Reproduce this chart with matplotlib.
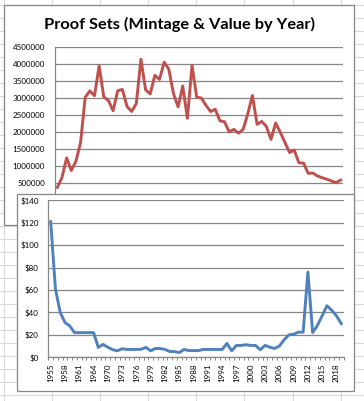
import matplotlib
matplotlib.use('Agg')
import matplotlib.pyplot as plt
from matplotlib.lines import Line2D
from matplotlib.patches import Rectangle
from matplotlib.ticker import FuncFormatter, MultipleLocator, FixedLocator

plt.rcParams['font.family'] = ['Lato', 'DejaVu Sans']

# ---------------------------------------------------------------------------
# Data (no proof sets struck 1965-1967)
# ---------------------------------------------------------------------------
years = list(range(1955, 1965)) + list(range(1968, 2020))

mintage = [
    378000, 669000, 1248000, 876000, 1149000, 1692000, 3028000, 3218000, 3076000, 3951000,
    3042000, 2935000, 2633000, 3221000, 3261000, 2760000, 2613000, 2845000, 4150000, 3251000,
    3128000, 3677000, 3555000, 4063000, 3857000, 3139000, 2748000, 3363000, 2411000, 3972000,
    3031000, 3009000, 2793000, 2611000, 2676000, 2338000, 2309000, 2010000, 2085000, 1975000,
    2087000, 2543000, 3083000, 2235000, 2320000, 2173000, 1789000, 2275000, 2000000, 1702000,
    1406000, 1478000, 1104000, 1095000, 794000, 802000, 715000, 663000, 622000, 569000,
    517000, 594000,
]

value = [
    121, 61, 40, 31, 28, 22, 22, 22, 22, 22,
    8.8, 11.5, 9, 6.8, 5.8, 7.6, 7, 7, 7, 7.2,
    8.8, 5.8, 7.9, 7.8, 7, 5.2, 5.1, 4.2, 7, 6,
    6, 6, 7, 7, 7, 7, 7, 12.4, 5.8, 10.6,
    10.6, 11.2, 10.6, 10.6, 6.7, 10.6, 9, 7.9, 10, 15.5,
    20, 20.6, 22.4, 22.4, 76, 22, 28.5, 37, 46, 42,
    37, 30,
]

W, H = 364, 401
GRAY = '#868686'


def fx(px):
    return px / W


def fy(py):
    return 1 - py / H


fig = plt.figure(figsize=(W / 100, H / 100), dpi=100)
fig.patch.set_facecolor('white')

# --- spreadsheet cell grid behind the charts ---
x = 3.5
while x < W:
    fig.add_artist(Line2D([fx(x), fx(x)], [0, 1], color='#d9d9d9', lw=0.8, zorder=0.5))
    x += 48.2
y = 4.7
while y < H:
    fig.add_artist(Line2D([0, 1], [fy(y), fy(y)], color='#d9d9d9', lw=0.8, zorder=0.5))
    y += 13.0

# --- chart boxes ---
fig.add_artist(Rectangle((fx(4), fy(225)), fx(354) - fx(4), fy(5) - fy(225),
                         facecolor='white', edgecolor=GRAY, lw=0.9, zorder=1))
fig.add_artist(Rectangle((fx(17), fy(391)), fx(354) - fx(17), fy(194) - fy(391),
                         facecolor='white', edgecolor=GRAY, lw=0.9, zorder=3))

n = len(years)

# --- top chart: mintage ---
ax1 = fig.add_axes([fx(55), fy(200.3), fx(343) - fx(55), fy(47.3) - fy(200.3)], zorder=2)
ax1.patch.set_alpha(0)
ax1.plot(range(n), mintage, color='#C0504D', lw=2.1, solid_joinstyle='round')
ax1.set_xlim(-0.5, n - 0.5)
ax1.set_ylim(0, 4500000)
ax1.yaxis.set_major_locator(MultipleLocator(500000))
ax1.yaxis.set_major_formatter(FuncFormatter(lambda v, p: f'{v:.0f}' if v > 0 else ''))
ax1.grid(True, axis='y', color=GRAY, lw=0.9)
ax1.set_axisbelow(True)
ax1.set_xticks([])
for s in ('top', 'right', 'bottom'):
    ax1.spines[s].set_visible(False)
ax1.spines['left'].set_color(GRAY)
ax1.spines['left'].set_linewidth(0.9)
ax1.tick_params(axis='y', length=0, pad=7.2, labelsize=5.8)

fig.text(fx(180), fy(24), 'Proof Sets (Mintage & Value by Year)', ha='center', va='center',
         fontsize=11.8, fontweight='bold', zorder=2)

# --- bottom chart: value ---
ax2 = fig.add_axes([fx(48.3), fy(357.3), fx(343.6) - fx(48.3), fy(200.3) - fy(357.3)], zorder=4)
ax2.patch.set_alpha(0)
ax2.plot(range(n), value, color='#4F81BD', lw=2.1, solid_joinstyle='round')
ax2.set_xlim(-0.5, n - 0.5)
ax2.set_ylim(0, 140)
ax2.yaxis.set_major_locator(MultipleLocator(20))
ax2.yaxis.set_major_formatter(FuncFormatter(lambda v, p: f'${v:.0f}'))
ax2.grid(True, axis='y', color=GRAY, lw=0.9)
ax2.set_axisbelow(True)
label_pos = list(range(0, n, 3))
ax2.xaxis.set_major_locator(FixedLocator(label_pos))
ax2.set_xticklabels([str(years[i]) for i in label_pos], rotation=90)
ax2.xaxis.set_minor_locator(FixedLocator([i - 0.5 for i in range(n + 1)]))
for s in ('top', 'right'):
    ax2.spines[s].set_visible(False)
for s in ('left', 'bottom'):
    ax2.spines[s].set_color(GRAY)
    ax2.spines[s].set_linewidth(0.9)
ax2.tick_params(axis='y', length=0, pad=6.8, labelsize=5.8)
ax2.tick_params(axis='x', which='major', length=0, pad=4.5, labelsize=5.8)
ax2.tick_params(axis='x', which='minor', length=2.5, width=0.7, color=GRAY)

fig.savefig('out.png', dpi=100)
